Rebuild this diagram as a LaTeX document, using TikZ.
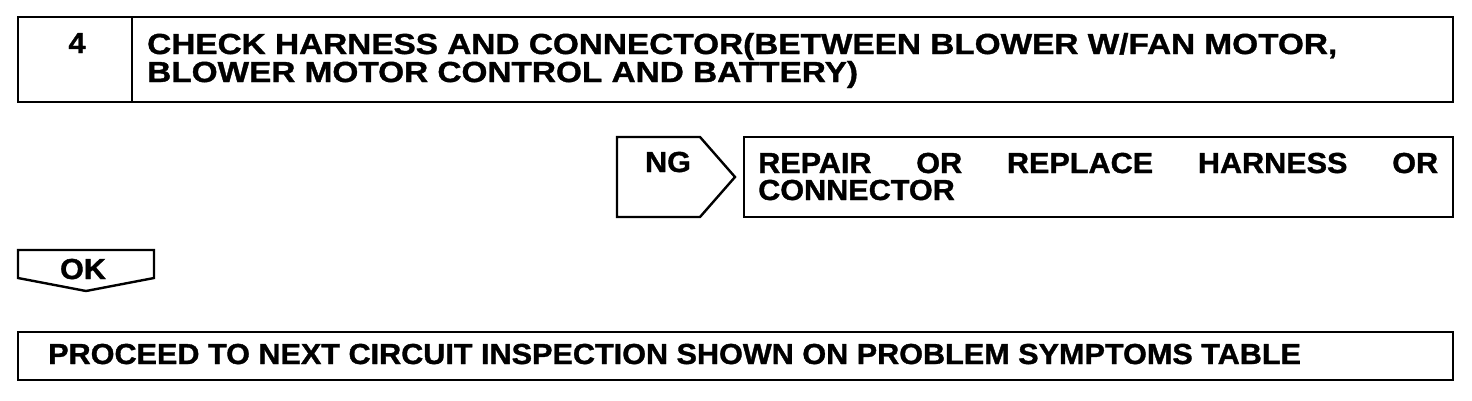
\documentclass[tikz,border=0pt]{standalone}
\usepackage{fontspec}
\setmainfont[FakeStretch=1.055, BoldFeatures={FakeBold=1.2}]{Liberation Sans}
\newfontfamily\widefont[FakeStretch=1.15, BoldFeatures={FakeBold=1.2}]{Liberation Sans}
\usetikzlibrary{positioning}
\tikzset{
  boxline/.style={draw, line width=2.4pt, line join=miter},
  bigtext/.style={font=\bfseries\fontsize{29}{30}\selectfont, inner sep=0pt},
  widetext/.style={font=\widefont\bfseries\fontsize{29}{30}\selectfont, inner sep=0pt}
}

\begin{document}
\begin{tikzpicture}[x=1pt, y=-1pt]
  \useasboundingbox (0,0) rectangle (1472,400);
  % Step header
  \draw[boxline] (18,17) rectangle (1453,102);
  \draw[boxline] (132,17) -- (132,102);
  \node[bigtext, anchor=base] (num) at (77,53) {4};
  \node[widetext, anchor=base west] (title1) at (147,54) {CHECK HARNESS AND CONNECTOR(BETWEEN BLOWER W/FAN MOTOR,};
  \node[widetext, anchor=base west] (title2) at (147,82) {BLOWER MOTOR CONTROL AND BATTERY)};

  % NG branch
  \draw[boxline] (617,137) -- (700,137) -- (735,177) -- (700,217) -- (617,217) -- cycle;
  \node[bigtext, anchor=base] (ng) at (668,172) {NG};
  \draw[boxline] (744,137) rectangle (1453,217);
  \node[bigtext, anchor=base west] (repair1) at (758,173) {\makebox[680pt][s]{REPAIR OR REPLACE HARNESS OR}};
  \node[bigtext, anchor=base west] (repair2) at (758,200) {CONNECTOR};

  % OK branch
  \draw[boxline] (18,250) -- (154,250) -- (154,278) -- (86,291) -- (18,278) -- cycle;
  \node[bigtext, anchor=base] (ok) at (83,279) {OK};

  % Next step
  \draw[boxline] (18,332) rectangle (1453,380);
  \node[bigtext, anchor=base west] (next) at (48,364) {PROCEED TO NEXT CIRCUIT INSPECTION SHOWN ON PROBLEM SYMPTOMS TABLE};
\end{tikzpicture}
\end{document}
